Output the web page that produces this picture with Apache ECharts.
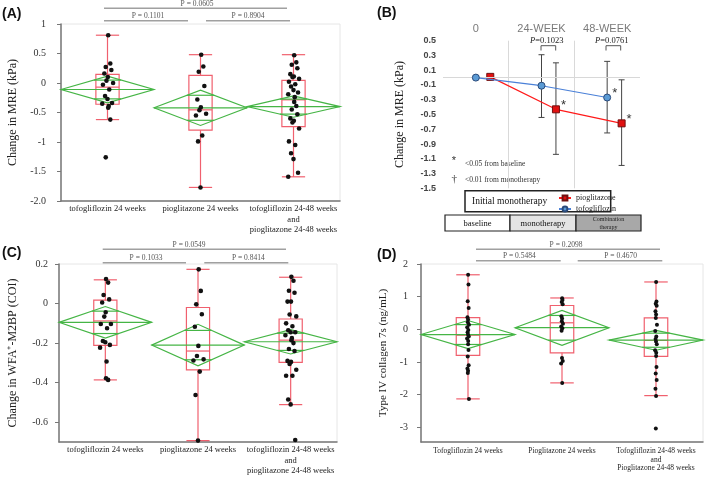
<!DOCTYPE html>
<html><head><meta charset="utf-8">
<script src="https://cdn.jsdelivr.net/npm/echarts@6/dist/echarts.min.js"></script>
<style>html,body{margin:0;padding:0;background:#fff}#c{width:709px;height:477px}</style>
</head><body><div id="c"></div>
<script>
// ---------- categories ----------
const groupsAC = ['tofogliflozin 24 weeks', 'pioglitazone 24 weeks', 'tofogliflozin 24-48 weeks\nand\npioglitazone 24-48 weeks'];
const groupsD = ['Tofogliflozin 24 weeks', 'Pioglitazone 24 weeks', 'Tofogliflozin 24-48 weeks\nand\nPioglitazone 24-48 weeks'];
const timepoints = ['0', '24-WEEK', '48-WEEK'];

// ---------- (A) change in MRE ----------
const mreTofo24 = [0.81, 0.33, 0.27, 0.22, 0.16, 0.10, 0.04, 0.00, -0.03, -0.11, -0.22, -0.27, -0.34, -0.35, -0.39, -0.42, -0.62, -1.26];
const mrePio24 = [0.48, 0.28, 0.19, -0.05, -0.28, -0.41, -0.46, -0.52, -0.55, -0.89, -0.99, -1.77];
const mreComb = [0.47, 0.35, 0.31, 0.25, 0.15, 0.11, 0.10, 0.07, 0.02, -0.02, -0.06, -0.12, -0.16, -0.19, -0.24, -0.32, -0.39, -0.45, -0.53, -0.60, -0.64, -0.67, -0.77, -0.99, -1.05, -1.19, -1.29, -1.52, -1.59];
const mreBox = [[-0.62, -0.36, -0.07, 0.145, 0.81], [-1.77, -0.80, -0.455, 0.13, 0.48], [-1.59, -0.74, -0.285, 0.045, 0.48]];
const mreDiamond = [[-0.11, -0.335, 0.115], [-0.42, -0.72, -0.12], [-0.40, -0.58, -0.22]];
const mrePvals = ['P = 0.0605', 'P = 0.1101', 'P = 0.8904'];

// ---------- (B) MRE over time ----------
const tofoMean = [0, -0.11, -0.27];
const tofoHigh = [null, 0.31, 0.22];
const tofoLow = [null, -0.54, -0.75];
const tofoStar = [false, false, true];
const pioMean = [0.01, -0.43, -0.62];
const pioHigh = [null, 0.20, -0.03];
const pioLow = [null, -1.04, -1.19];
const pioStar = [false, true, true];
const bPvals = ['0.1023', '0.0761'];

// ---------- (C) WFA+-M2BP ----------
const m2Tofo24 = [0.124, 0.106, 0.043, 0.021, 0.005, -0.044, -0.066, -0.103, -0.103, -0.125, -0.189, -0.196, -0.209, -0.223, -0.293, -0.378, -0.386];
const m2Pio24 = [0.173, 0.064, -0.004, -0.054, -0.117, -0.214, -0.265, -0.282, -0.288, -0.344, -0.462, -0.693];
const m2Comb = [0.135, 0.115, 0.065, 0.055, 0.01, 0.01, -0.055, -0.065, -0.10, -0.115, -0.135, -0.145, -0.145, -0.16, -0.175, -0.185, -0.20, -0.23, -0.24, -0.29, -0.295, -0.305, -0.335, -0.365, -0.365, -0.485, -0.51, -0.69];
const m2Box = [[-0.386, -0.211, -0.088, 0.017, 0.12], [-0.693, -0.335, -0.24, -0.02, 0.173], [-0.511, -0.297, -0.185, -0.078, 0.133]];
const m2Diamond = [[-0.095, -0.175, -0.015], [-0.21, -0.315, -0.105], [-0.193, -0.255, -0.132]];
const m2Ticks = [-0.6, -0.4, -0.2, 0, 0.2];
const m2Pvals = ['P = 0.0549', 'P = 0.1033', 'P = 0.8414'];

// ---------- (D) type IV collagen 7s ----------
const c7Tofo24 = [1.67, 1.37, 0.86, 0.65, 0.37, 0.30, 0.22, 0.14, 0.06, -0.02, -0.09, -0.16, -0.22, -0.28, -0.36, -0.46, -0.63, -0.83, -1.10, -1.20, -1.27, -1.34, -2.13];
const c7Pio24 = [0.95, 0.90, 0.84, 0.77, 0.40, 0.33, 0.25, 0.17, 0.09, 0.03, -0.04, -0.88, -0.97, -1.05, -1.64];
const c7Comb = [1.45, 0.85, 0.78, 0.72, 0.55, 0.45, 0.35, 0.14, -0.05, -0.22, -0.30, -0.37, -0.46, -0.64, -0.72, -0.82, -1.15, -1.35, -1.55, -1.82, -2.04, -3.04];
const c7Box = [[-2.13, -0.795, -0.18, 0.36, 1.67], [-1.64, -0.72, 0.2, 0.73, 0.96], [-2.03, -0.83, -0.34, 0.35, 1.45]];
const c7Diamond = [[-0.16, -0.59, 0.27], [0.05, -0.49, 0.58], [-0.33, -0.64, -0.03]];
const c7Ticks = [-3, -2, -1, 0, 1, 2];
const c7Pvals = ['P = 0.2098', 'P = 0.5484', 'P = 0.4670'];

// ---------- styles ----------
const SERIF = '"Liberation Serif", "Times New Roman", serif';
const SANS = '"Liberation Sans", Arial, sans-serif';
const BOXC = '#f0606e', DIAC = '#45b545';
const JIT = [0.2, 0.8, -0.5, 1.1, -0.9, 0.1, -0.3, 1.6, -1.3, 0.5, -0.7, 0.0, 1.3, -1.5, 0.35];

function boxRender(params, api) {
  const c = api.value(0);
  const lo = api.coord([c, api.value(1)]), q1 = api.coord([c, api.value(2)]);
  const md = api.coord([c, api.value(3)]), q3 = api.coord([c, api.value(4)]);
  const hi = api.coord([c, api.value(5)]);
  const w = api.size([1, 0])[0] * 0.25, x = lo[0];
  const st = { stroke: BOXC, lineWidth: 1.2, fill: 'transparent' };
  return { type: 'group', children: [
    { type: 'line', shape: { x1: x, y1: hi[1], x2: x, y2: q3[1] }, style: st },
    { type: 'line', shape: { x1: x, y1: q1[1], x2: x, y2: lo[1] }, style: st },
    { type: 'rect', shape: { x: x - w / 2, y: q3[1], width: w, height: q1[1] - q3[1] }, style: st },
    { type: 'line', shape: { x1: x - w / 2, y1: md[1], x2: x + w / 2, y2: md[1] }, style: st },
    { type: 'line', shape: { x1: x - w / 2, y1: hi[1], x2: x + w / 2, y2: hi[1] }, style: st },
    { type: 'line', shape: { x1: x - w / 2, y1: lo[1], x2: x + w / 2, y2: lo[1] }, style: st }
  ]};
}
function diamondRender(params, api) {
  const c = api.value(0);
  const m = api.coord([c, api.value(1)]), lo = api.coord([c, api.value(2)]), up = api.coord([c, api.value(3)]);
  const bw = api.size([1, 0])[0];
  const k = 1 / Math.SQRT2, hw = (bw / 2) * (1 - k);
  const yU = m[1] - (m[1] - up[1]) * k, yL = m[1] + (lo[1] - m[1]) * k;
  const st = { stroke: DIAC, lineWidth: 1.2, fill: 'transparent' };
  return { type: 'group', children: [
    { type: 'polygon', shape: { points: [[m[0] - bw / 2, m[1]], [m[0], up[1]], [m[0] + bw / 2, m[1]], [m[0], lo[1]]] }, style: st },
    { type: 'line', shape: { x1: m[0] - bw / 2, y1: m[1], x2: m[0] + bw / 2, y2: m[1] }, style: st },
    { type: 'line', shape: { x1: m[0] - hw, y1: yU, x2: m[0] + hw, y2: yU }, style: st },
    { type: 'line', shape: { x1: m[0] - hw, y1: yL, x2: m[0] + hw, y2: yL }, style: st }
  ]};
}
function pointRender(scale, r) {
  return function (params, api) {
    const p = api.coord([api.value(0), api.value(1)]);
    const j = JIT[api.value(2) % JIT.length] * scale;
    return { type: 'circle', shape: { cx: p[0] + j, cy: p[1], r: r }, style: { fill: '#111' } };
  };
}
function boxSeries(idx, groups, box, diamond, scale, r) {
  return [
    { type: 'custom', xAxisIndex: idx, yAxisIndex: idx, renderItem: boxRender, z: 2,
      data: box.map((b, i) => [i].concat(b)), silent: true },
    { type: 'custom', xAxisIndex: idx, yAxisIndex: idx, renderItem: diamondRender, z: 3,
      data: diamond.map((d, i) => [i].concat(d)), silent: true },
    { type: 'custom', xAxisIndex: idx, yAxisIndex: idx, renderItem: pointRender(scale, r), z: 4,
      data: groups.flatMap((vals, gi) => vals.map((v, i) => [gi, v, i])), silent: true }
  ];
}
function catAxis(idx, labels, fs, lh, margin) {
  return { type: 'category', gridIndex: idx, data: labels, boundaryGap: true,
    axisLine: { onZero: false, lineStyle: { color: '#777', width: 1.5 } }, axisTick: { show: false },
    axisLabel: { interval: 0, fontFamily: SERIF, fontSize: fs, lineHeight: lh, color: '#222', margin: margin } };
}
function valAxis(idx, o) {
  return Object.assign({ type: 'value', gridIndex: idx, nameLocation: 'middle',
    nameTextStyle: { fontFamily: SERIF, fontSize: 12, color: '#222' },
    axisLine: { show: true, onZero: false, lineStyle: { color: '#777', width: 1.5 } },
    axisTick: { show: true, length: 4, lineStyle: { color: '#777' } },
    splitLine: { show: false } }, o);
}
function pBrackets(top, lines, texts, fs) {
  const els = [];
  const g = '#a0a0a0';
  els.push({ type: 'line', shape: { x1: top[0], y1: top[2], x2: top[1], y2: top[2] }, style: { stroke: g, lineWidth: 1.5 } });
  els.push({ type: 'text', x: top[3], y: top[4], style: { text: texts[0], fontFamily: SERIF, fontSize: fs, fill: '#555', align: 'center', verticalAlign: 'middle' } });
  lines.forEach((l, i) => {
    els.push({ type: 'line', shape: { x1: l[0], y1: l[2], x2: l[1], y2: l[2] }, style: { stroke: g, lineWidth: 1.5 } });
    els.push({ type: 'text', x: l[3], y: l[4], style: { text: texts[i + 1], fontFamily: SERIF, fontSize: fs, fill: '#555', align: 'center', verticalAlign: 'middle' } });
  });
  return els;
}
function errRender(params, api) {
  const x = api.value(0);
  const hi = api.coord([x, api.value(1)]), lo = api.coord([x, api.value(2)]);
  const st = { stroke: '#444', lineWidth: 1 };
  return { type: 'group', children: [
    { type: 'line', shape: { x1: hi[0], y1: hi[1], x2: lo[0], y2: lo[1] }, style: st },
    { type: 'line', shape: { x1: hi[0] - 3, y1: hi[1], x2: hi[0] + 3, y2: hi[1] }, style: st },
    { type: 'line', shape: { x1: lo[0] - 3, y1: lo[1], x2: lo[0] + 3, y2: lo[1] }, style: st }
  ]};
}
const PIO_SHIFT = 0.22;
const tofoErr = [], pioErr = [];
timepoints.forEach((t, i) => {
  if (tofoHigh[i] !== null) tofoErr.push([i + 0.5, tofoHigh[i], tofoLow[i]]);
  if (pioHigh[i] !== null) pioErr.push([i + 0.5 + PIO_SHIFT, pioHigh[i], pioLow[i]]);
});
const starLabel = { show: true, formatter: '*', position: 'right', distance: 1, offset: [0, -4], fontSize: 13, color: '#333', fontFamily: SANS };

const chart = echarts.init(document.getElementById('c'), null, { renderer: 'canvas' });
const option = {
  animation: false,
  backgroundColor: '#fff',
  grid: [
    { left: 61, top: 24, width: 279, height: 177, show: true, borderColor: '#e6e6e6', borderWidth: 1 },
    { left: 443, top: 40.7, width: 197, height: 147.6 },
    { left: 59, top: 264, width: 278, height: 178, show: true, borderColor: '#e6e6e6', borderWidth: 1 },
    { left: 421, top: 264, width: 282, height: 178, show: true, borderColor: '#e6e6e6', borderWidth: 1 }
  ],
  xAxis: [
    catAxis(0, groupsAC, 8.5, 10.2, 3),
    { type: 'value', gridIndex: 1, min: 0, max: 3, interval: 1, position: 'top',
      axisLine: { show: false }, axisTick: { show: false },
      splitLine: { show: true, showMinLine: false, showMaxLine: false, lineStyle: { color: '#d9d9d9' } },
      axisLabel: { customValues: [0.5, 1.5, 2.5], formatter: v => timepoints[Math.floor(v)], fontFamily: SANS, fontSize: 11, color: '#7a7a7a', margin: 6 } },
    catAxis(2, groupsAC, 8.5, 10.4, 3),
    catAxis(3, groupsD, 7.5, 8.5, 5)
  ],
  yAxis: [
    valAxis(0, { min: -2, max: 1, interval: 0.5, name: 'Change in MRE (kPa)', nameGap: 42,
      axisLabel: { formatter: v => v === -2 ? '-2.0' : String(v), fontFamily: SERIF, fontSize: 10, color: '#333', margin: 15 } }),
    { type: 'value', gridIndex: 1, min: -1.5, max: 0.5, interval: 0.2, name: 'Change in MRE (kPa)', nameLocation: 'middle', nameGap: 37,
      nameTextStyle: { fontFamily: SERIF, fontSize: 12, color: '#222' },
      axisLine: { show: false }, axisTick: { show: false }, splitLine: { show: false },
      axisLabel: { formatter: v => v.toFixed(1), fontFamily: SANS, fontWeight: 'bold', fontSize: 9, color: '#444', margin: 7 } },
    valAxis(2, { min: -0.7, max: 0.2, name: 'Change in WFA\u207A-M2BP (COI)', nameGap: 40,
      axisLabel: { customValues: m2Ticks, formatter: v => v === 0 ? '0' : v.toFixed(1), fontFamily: SERIF, fontSize: 10, color: '#333', margin: 11 },
      axisTick: { show: true, customValues: m2Ticks, length: 4, lineStyle: { color: '#777' } } }),
    valAxis(3, { min: -3.45, max: 2, name: 'Type IV collagen 7s (ng/mL)', nameGap: 32,
      nameTextStyle: { fontFamily: SERIF, fontSize: 11, color: '#222' },
      axisLabel: { customValues: c7Ticks, formatter: v => String(v), fontFamily: SERIF, fontSize: 10, color: '#333', margin: 13 },
      axisTick: { show: true, customValues: c7Ticks, length: 4, lineStyle: { color: '#777' } } })
  ],
  legend: { data: ['pioglitazone', 'tofogliflozin'], orient: 'vertical', left: 553, top: 189, itemWidth: 12, itemHeight: 6, itemGap: 3,
    textStyle: { fontFamily: SERIF, fontSize: 8, color: '#222' } },
  series: [].concat(
    boxSeries(0, [mreTofo24, mrePio24, mreComb], mreBox, mreDiamond, 3.5, 2.3),
    boxSeries(2, [m2Tofo24, m2Pio24, m2Comb], m2Box, m2Diamond, 3.5, 2.3),
    boxSeries(3, [c7Tofo24, c7Pio24, c7Comb], c7Box, c7Diamond, 0.6, 2.0),
    [
      { type: 'custom', xAxisIndex: 1, yAxisIndex: 1, renderItem: errRender, data: tofoErr, z: 2, silent: true },
      { type: 'custom', xAxisIndex: 1, yAxisIndex: 1, renderItem: errRender, data: pioErr, z: 2, silent: true },
      { name: 'pioglitazone', type: 'line', xAxisIndex: 1, yAxisIndex: 1, z: 4,
        data: pioMean.map((v, i) => ({ value: [i + 0.5 + PIO_SHIFT, v], label: pioStar[i] ? starLabel : { show: false } })),
        symbol: 'rect', symbolSize: 7, lineStyle: { color: '#ff1a1a', width: 1.2 },
        itemStyle: { color: '#e01010', borderColor: '#701010', borderWidth: 1 },
        markLine: { silent: true, symbol: 'none', label: { show: false }, lineStyle: { color: '#d8d8d8', type: 'solid', width: 1 }, data: [{ yAxis: 0 }] } },
      { name: 'tofogliflozin', type: 'line', xAxisIndex: 1, yAxisIndex: 1, z: 5,
        data: tofoMean.map((v, i) => ({ value: [i + 0.5, v], label: tofoStar[i] ? starLabel : { show: false } })),
        symbol: 'circle', symbolSize: 7, lineStyle: { color: '#4a80d8', width: 1.2 },
        itemStyle: { color: '#5b9bd5', borderColor: '#2a4a7a', borderWidth: 1 } }
    ]
  ),
  graphic: [].concat(
    [
      { type: 'text', x: 2, y: 14, style: { text: '(A)', fontFamily: SANS, fontWeight: 'bold', fontSize: 14, fill: '#111', verticalAlign: 'middle' } },
      { type: 'text', x: 377, y: 13, style: { text: '(B)', fontFamily: SANS, fontWeight: 'bold', fontSize: 14, fill: '#111', verticalAlign: 'middle' } },
      { type: 'text', x: 2, y: 253, style: { text: '(C)', fontFamily: SANS, fontWeight: 'bold', fontSize: 14, fill: '#111', verticalAlign: 'middle' } },
      { type: 'text', x: 377, y: 255, style: { text: '(D)', fontFamily: SANS, fontWeight: 'bold', fontSize: 14, fill: '#111', verticalAlign: 'middle' } }
    ],
    pBrackets([104, 287, 8.3, 197, 4.2], [[104, 188, 20.7, 148, 16.2], [206, 290, 20.7, 248, 16.2]], mrePvals, 7.5),
    pBrackets([102.7, 286, 249.3, 189, 245], [[102.7, 186, 262.7, 146, 257.6], [204.3, 288.3, 262.7, 248.3, 257.6]], m2Pvals, 7.5),
    pBrackets([476, 660, 249.3, 566, 244.7], [[476, 560.7, 260.7, 519.3, 256.3], [577.7, 662.3, 260.7, 620.7, 256.3]], c7Pvals, 7.5),
    [
      { type: 'text', x: 546.7, y: 40.7, style: { text: '{i|P}=' + bPvals[0], rich: { i: { fontStyle: 'italic', fontFamily: SERIF, fontSize: 8.5 } }, fontFamily: SERIF, fontSize: 8.5, fill: '#222', align: 'center', verticalAlign: 'middle' } },
      { type: 'polyline', shape: { points: [[541, 50.5], [541, 45.7], [555.7, 45.7], [555.7, 50.5]] }, style: { stroke: '#555', lineWidth: 1, fill: 'none' } },
      { type: 'text', x: 611.7, y: 40.7, style: { text: '{i|P}=' + bPvals[1], rich: { i: { fontStyle: 'italic', fontFamily: SERIF, fontSize: 8.5 } }, fontFamily: SERIF, fontSize: 8.5, fill: '#222', align: 'center', verticalAlign: 'middle' } },
      { type: 'polyline', shape: { points: [[606, 50.5], [606, 45.7], [620.7, 45.7], [620.7, 50.5]] }, style: { stroke: '#555', lineWidth: 1, fill: 'none' } },
      { type: 'text', x: 454, y: 161, style: { text: '*', fontFamily: SANS, fontSize: 11, fill: '#333', align: 'center', verticalAlign: 'middle' } },
      { type: 'text', x: 465, y: 164, style: { text: '<0.05 from baseline', fontFamily: SERIF, fontSize: 7.5, fill: '#333', verticalAlign: 'middle' } },
      { type: 'text', x: 454.3, y: 179, style: { text: '\u2020', fontFamily: SERIF, fontSize: 11, fill: '#333', align: 'center', verticalAlign: 'middle' } },
      { type: 'text', x: 465, y: 180, style: { text: '<0.01 from monotherapy', fontFamily: SERIF, fontSize: 7.5, fill: '#333', verticalAlign: 'middle' } },
      { type: 'rect', shape: { x: 465, y: 190.7, width: 145.7, height: 21 }, style: { fill: 'none', stroke: '#222', lineWidth: 1.5 }, z: -1 },
      { type: 'text', x: 472, y: 201, style: { text: 'Initial monotherapy', fontFamily: SERIF, fontSize: 9.5, fill: '#111', verticalAlign: 'middle' } },
      { type: 'rect', shape: { x: 445, y: 215, width: 65, height: 16 }, style: { fill: '#ffffff', stroke: '#222', lineWidth: 1.2 } },
      { type: 'rect', shape: { x: 510, y: 215, width: 66, height: 16 }, style: { fill: '#e4e4e4', stroke: '#222', lineWidth: 1.2 } },
      { type: 'rect', shape: { x: 576, y: 215, width: 65, height: 16 }, style: { fill: '#a8a8a8', stroke: '#222', lineWidth: 1.2 } },
      { type: 'text', x: 477.5, y: 223.5, style: { text: 'baseline', fontFamily: SERIF, fontSize: 8.5, fill: '#111', align: 'center', verticalAlign: 'middle' } },
      { type: 'text', x: 543, y: 223.5, style: { text: 'monotherapy', fontFamily: SERIF, fontSize: 8.5, fill: '#111', align: 'center', verticalAlign: 'middle' } },
      { type: 'text', x: 608.5, y: 223.5, style: { text: 'Combination\ntherapy', fontFamily: SERIF, fontSize: 6, lineHeight: 8, fill: '#222', align: 'center', verticalAlign: 'middle' } }
    ]
  )
};
chart.setOption(option);
</script>
</body></html>
